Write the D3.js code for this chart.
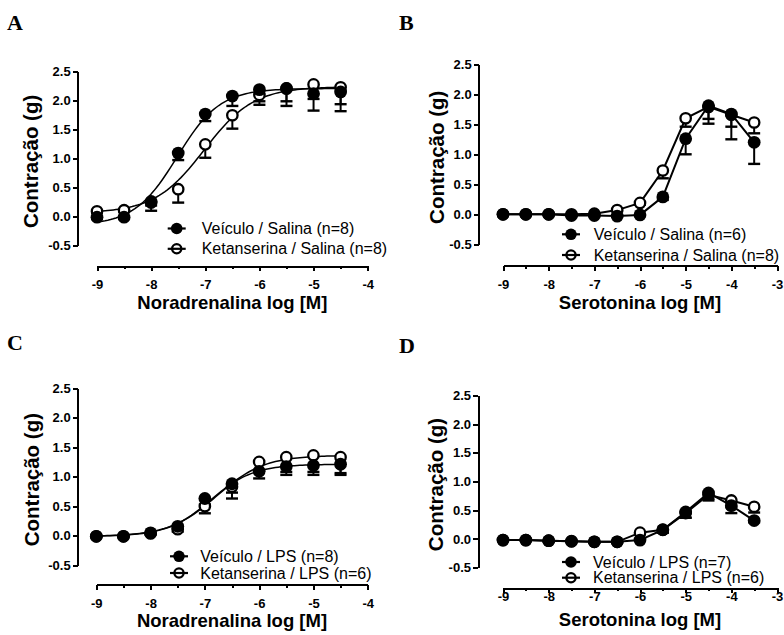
<!DOCTYPE html>
<html>
<head>
<meta charset="utf-8">
<script src="https://cdn.jsdelivr.net/npm/d3@7/dist/d3.min.js"></script>
<style>
  html, body { margin: 0; padding: 0; background: #fff; }
  svg { display: block; }
  .axis path, .axis line { stroke: #000; stroke-width: 2px; shape-rendering: crispEdges; }
</style>
</head>
<body>
<div id="chart"></div>
<script>
// log concentrations
const dosesNA = [-9, -8.5, -8, -7.5, -7, -6.5, -6, -5.5, -5, -4.5];
const dosesSER = [-9, -8.5, -8, -7.5, -7, -6.5, -6, -5.5, -5, -4.5, -4, -3.5];

// A: noradrenalina / salina
const aVeiculo = [-0.01, -0.01, 0.26, 1.09, 1.76, 2.07, 2.18, 2.20, 2.11, 2.14];
const aVeiculoErr = [0.03, 0.03, 0.16, 0.12, 0.12, 0.17, 0.26, 0.30, 0.29, 0.33];
const aKetan = [0.09, 0.11, 0.24, 0.47, 1.24, 1.74, 2.09, 2.20, 2.27, 2.22];
const aKetanErr = [0.02, 0.02, 0.05, 0.23, 0.23, 0.23, 0.11, 0.22, 0.25, 0.29];
// fit: bottom, top, logEC50, hill
const aVeiculoFit = [-0.15, 2.20, -7.52, 1.1];
const aKetanFit = [0.06, 2.23, -7.02, 0.95];

// B: serotonina / salina
const bVeiculo = [0, 0, 0, -0.02, -0.02, -0.03, -0.01, 0.29, 1.26, 1.81, 1.67, 1.20];
const bVeiculoErr = [0.01, 0.01, 0.01, 0.01, 0.01, 0.01, 0.02, 0.05, 0.26, 0.30, 0.42, 0.36];
const bKetan = [0, 0, 0, 0, 0.01, 0.07, 0.19, 0.73, 1.60, 1.79, 1.66, 1.53];
const bKetanErr = [0.01, 0.01, 0.01, 0.01, 0.01, 0.02, 0.03, 0.13, 0.14, 0.20, 0.20, 0.18];

// C: noradrenalina / LPS
const cVeiculo = [-0.01, -0.01, 0.05, 0.16, 0.63, 0.88, 1.09, 1.17, 1.19, 1.21];
const cVeiculoErr = [0.01, 0.01, 0.02, 0.04, 0.10, 0.25, 0.12, 0.14, 0.16, 0.18];
const cKetan = [-0.01, -0.01, 0.04, 0.11, 0.50, 0.83, 1.25, 1.33, 1.36, 1.33];
const cKetanErr = [0.01, 0.01, 0.02, 0.04, 0.12, 0.10, 0.15, 0.25, 0.28, 0.27];
const cVeiculoFit = [-0.01, 1.21, -6.9, 1.1];
const cKetanFit = [-0.01, 1.36, -6.78, 1.0];

// D: serotonina / LPS
const dVeiculo = [-0.02, -0.02, -0.03, -0.04, -0.05, -0.05, -0.02, 0.16, 0.47, 0.80, 0.58, 0.32];
const dVeiculoErr = [0.01, 0.01, 0.01, 0.01, 0.01, 0.01, 0.01, 0.05, 0.10, 0.10, 0.13, 0.03];
const dKetan = [-0.02, -0.02, -0.03, -0.04, -0.05, -0.05, 0.11, 0.16, 0.45, 0.77, 0.67, 0.56];
const dKetanErr = [0.01, 0.01, 0.01, 0.01, 0.01, 0.01, 0.03, 0.05, 0.08, 0.10, 0.12, 0.10];

const yTicks = [-0.5, 0, 0.5, 1, 1.5, 2, 2.5];
const yTitle = "Contração (g)";

const panels = [
  { letter: "A", lx: 7, ly: 30, xDom: [-9, -4], xR: [97, 367.7], yR: [245.7, 71], axX: 77.7, axY: 266,
    lblOff: 23, titOff: 43, yTitOff: 40, xTitle: "Noradrenalina log [M]", doses: dosesNA,
    series: [
      { name: "Veículo / Salina (n=8)", vals: aVeiculo, err: aVeiculoErr, fit: aVeiculoFit, open: false },
      { name: "Ketanserina / Salina (n=8)", vals: aKetan, err: aKetanErr, fit: aKetanFit, open: true }],
    leg: { x: 176.7, ys: [228.5, 248.8], tx: 201.7 } },
  { letter: "B", lx: 399, ly: 30, xDom: [-9, -3], xR: [503, 777], yR: [244.3, 64.3], axX: 478.7, axY: 265.7,
    lblOff: 23.5, titOff: 43, yTitOff: 35, xTitle: "Serotonina log [M]", doses: dosesSER,
    series: [
      { name: "Veículo / Salina (n=6)", vals: bVeiculo, err: bVeiculoErr, open: false },
      { name: "Ketanserina / Salina (n=8)", vals: bKetan, err: bKetanErr, open: true }],
    leg: { x: 571, ys: [234.3, 255], tx: 593.7 } },
  { letter: "C", lx: 7, ly: 350, xDom: [-9, -4], xR: [96.3, 367.7], yR: [565.3, 388], axX: 77.7, axY: 584.7,
    lblOff: 23, titOff: 42.5, yTitOff: 39, xTitle: "Noradrenalina log [M]", doses: dosesNA,
    series: [
      { name: "Veículo / LPS (n=8)", vals: cVeiculo, err: cVeiculoErr, fit: cVeiculoFit, open: false },
      { name: "Ketanserina / LPS (n=6)", vals: cKetan, err: cKetanErr, fit: cKetanFit, open: true }],
    leg: { x: 179, ys: [556.3, 573], tx: 200.3 } },
  { letter: "D", lx: 399, ly: 353, xDom: [-9, -3], xR: [503, 777], yR: [567.7, 395.3], axX: 478, axY: 588,
    lblOff: 12.5, titOff: 37.5, yTitOff: 35, xTitle: "Serotonina log [M]", doses: dosesSER,
    series: [
      { name: "Veículo / LPS (n=7)", vals: dVeiculo, err: dVeiculoErr, open: false },
      { name: "Ketanserina / LPS (n=6)", vals: dKetan, err: dKetanErr, open: true }],
    leg: { x: 571, ys: [562, 577.7], tx: 593 } }
];

const svg = d3.select("#chart").append("svg").attr("width", 784).attr("height", 635);

function logistic(p, x) {
  return p[0] + (p[1] - p[0]) / (1 + Math.pow(10, (p[2] - x) * p[3]));
}

function styleTicks(sel) {
  sel.selectAll(".tick text")
    .style("font-family", "'Liberation Sans', Arial, sans-serif")
    .style("font-weight", 700).style("font-size", "13px").style("fill", "#000");
}

panels.forEach(P => {
  const g = svg.append("g");
  const x = d3.scaleLinear().domain(P.xDom).range(P.xR);
  const y = d3.scaleLinear().domain([-0.5, 2.5]).range(P.yR);

  g.append("text").attr("x", P.lx).attr("y", P.ly)
    .style("font-family", "'Liberation Serif', 'Times New Roman', serif").style("font-weight", 700)
    .style("font-size", "22px").text(P.letter);

  // y axis
  const ya = g.append("g").attr("class", "axis").attr("transform", `translate(${P.axX},0)`)
    .call(d3.axisLeft(y).tickValues(yTicks).tickSize(5).tickSizeOuter(0).tickPadding(2)
      .tickFormat(d => d.toFixed(1)));
  styleTicks(ya);

  // x axis: minor half ticks, then labelled integers
  const xMajor = d3.range(P.xDom[0], P.xDom[1] + 1);
  const xMinor = d3.range(P.xDom[0] + 0.5, P.xDom[1], 1);
  g.append("g").attr("class", "axis").attr("transform", `translate(0,${P.axY})`)
    .call(d3.axisBottom(x).tickValues(xMinor).tickSize(3).tickSizeOuter(0).tickFormat(""));
  const xa = g.append("g").attr("class", "axis").attr("transform", `translate(0,${P.axY})`)
    .call(d3.axisBottom(x).tickValues(xMajor).tickSize(5).tickSizeOuter(0).tickFormat(d => String(d)));
  xa.selectAll(".tick text").attr("dy", null).attr("y", P.lblOff);
  styleTicks(xa);

  // titles
  g.append("text").attr("x", (P.xR[0] + P.xR[1]) / 2).attr("y", P.axY + P.titOff)
    .attr("text-anchor", "middle")
    .style("font-family", "'Liberation Sans', Arial, sans-serif").style("font-weight", 700).style("font-size", "18.5px")
    .text(P.xTitle);
  const yc = (P.yR[0] + P.yR[1]) / 2 + 3;
  g.append("text").attr("transform", `translate(${P.axX - P.yTitOff},${yc}) rotate(-90)`)
    .attr("text-anchor", "middle")
    .style("font-family", "'Liberation Sans', Arial, sans-serif").style("font-weight", 700).style("font-size", "20.5px")
    .text(yTitle);

  // curves / connecting lines
  P.series.forEach(s => {
    let pts;
    if (s.fit) {
      const xs = d3.range(P.doses[0], P.doses[P.doses.length - 1] + 0.001, 0.05);
      pts = xs.map(v => [x(v), y(logistic(s.fit, v))]);
    } else {
      pts = P.doses.map((d, i) => [x(d), y(s.vals[i])]);
    }
    g.append("path").attr("d", d3.line()(pts)).attr("fill", "none")
      .attr("stroke", "#000").attr("stroke-width", s.fit ? 1.5 : 2);
  });

  // error bars (below)
  P.series.forEach(s => {
    P.doses.forEach((d, i) => {
      const x0 = x(d), y0 = y(s.vals[i]), y1 = y(s.vals[i] - s.err[i]);
      g.append("line").attr("x1", x0).attr("x2", x0).attr("y1", y0).attr("y2", y1)
        .attr("stroke", "#000").attr("stroke-width", 2);
      g.append("line").attr("x1", x0 - 6).attr("x2", x0 + 6).attr("y1", y1).attr("y2", y1)
        .attr("stroke", "#000").attr("stroke-width", 2.4);
    });
  });

  // markers: open first, filled on top
  [P.series[1], P.series[0]].forEach(s => {
    g.selectAll(null).data(P.doses).join("circle")
      .attr("cx", d => x(d)).attr("cy", (d, i) => y(s.vals[i]))
      .attr("r", s.open ? 5.2 : 6.4)
      .attr("fill", s.open ? "#fff" : "#000")
      .attr("stroke", "#000").attr("stroke-width", s.open ? 2.3 : 0);
  });

  // legend
  P.series.forEach((s, i) => {
    const ly = P.leg.ys[i];
    g.append("line").attr("x1", P.leg.x - 9).attr("x2", P.leg.x + 9).attr("y1", ly).attr("y2", ly)
      .attr("stroke", "#000").attr("stroke-width", 2.2);
    g.append("circle").attr("cx", P.leg.x).attr("cy", ly).attr("r", s.open ? 4.6 : 5.8)
      .attr("fill", s.open ? "#fff" : "#000").attr("stroke", "#000").attr("stroke-width", s.open ? 2.3 : 0);
    if (s.open) {
      g.append("line").attr("x1", P.leg.x - 5).attr("x2", P.leg.x + 5).attr("y1", ly).attr("y2", ly)
        .attr("stroke", "#000").attr("stroke-width", 2.2);
    }
    g.append("text").attr("x", P.leg.tx).attr("y", ly + 5.5)
      .style("font-family", "'Liberation Sans', Arial, sans-serif").style("font-size", "16px")
      .text(s.name);
  });
});
</script>
</body>
</html>
